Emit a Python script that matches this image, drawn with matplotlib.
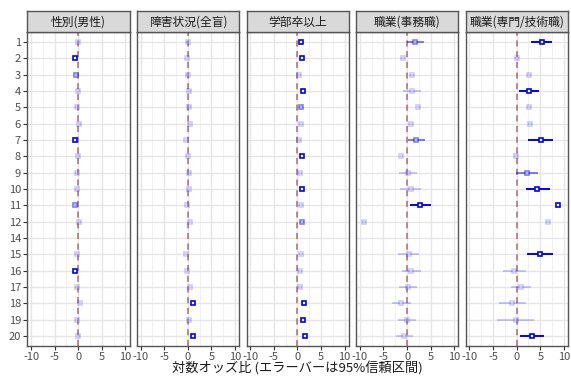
import numpy as np
import matplotlib
matplotlib.use("Agg")
import matplotlib.pyplot as plt

plt.rcParams['font.family'] = ['Noto Sans CJK JP', 'DejaVu Sans']

nan = np.nan

# question numbers (13 is not in the chart, 14 has no estimates)
items = ["1", "2", "3", "4", "5", "6", "7", "8", "9", "10",
         "11", "12", "14", "15", "16", "17", "18", "19", "20"]

panels = ["性別(男性)", "障害状況(全盲)", "学部卒以上", "職業(事務職)", "職業(専門/技術職)"]

# log odds ratio estimates
est_male = [0.0, -0.6, -0.4, 0.0, -0.3, 0.2, -0.8, 0.0, -0.3, -0.3,
            -0.7, 0.2, nan, -0.3, -0.8, -0.3, 0.3, -0.3, 0.0]
est_blind = [0.0, -0.2, 0.0, 0.3, 0.3, 0.4, -0.4, 0.0, 0.3, 0.2,
             -0.1, 0.4, nan, -0.3, -0.2, 0.4, 1.0, 0.3, 1.0]
est_univ = [0.8, 0.9, 0.4, 1.1, 0.7, 0.7, 0.4, 1.0, 0.5, 1.0,
            0.8, 0.9, nan, 0.7, 0.6, 0.6, 1.4, 1.25, 1.5]
est_office = [1.7, -0.8, 1.1, 1.1, 2.4, 0.8, 1.9, -1.2, 0.1, 0.75,
              2.8, -9.2, nan, 0.35, 0.9, 0.3, -1.2, -0.1, -0.6]
est_prof = [5.3, 0.0, 2.6, 2.6, 2.6, 2.8, 5.1, -0.2, 2.1, 4.4,
            8.8, 6.6, nan, 4.9, -0.55, 0.9, -1.0, -0.2, 3.2]

# lower / upper 95% CI
lo_male = [-0.3, -0.9, -0.7, -0.3, -0.6, -0.1, -1.1, -0.3, -0.6, -0.6,
           -1.0, -0.1, nan, -0.6, -1.1, -0.6, 0.0, -0.6, -0.3]
hi_male = [0.3, -0.3, -0.1, 0.3, 0.0, 0.5, -0.5, 0.3, 0.0, 0.0,
           -0.4, 0.5, nan, 0.0, -0.5, 0.0, 0.6, 0.0, 0.3]
lo_blind = [-0.3, -0.5, -0.3, 0.0, 0.0, 0.1, -0.7, -0.3, 0.0, -0.1,
            -0.4, 0.1, nan, -0.6, -0.5, 0.1, 0.7, 0.0, 0.7]
hi_blind = [0.3, 0.1, 0.3, 0.6, 0.6, 0.7, -0.1, 0.3, 0.6, 0.5,
            0.2, 0.7, nan, 0.0, 0.1, 0.7, 1.3, 0.6, 1.3]
lo_univ = [0.4, 0.5, 0.0, 0.7, 0.3, 0.3, 0.0, 0.6, 0.1, 0.6,
           0.4, 0.5, nan, 0.3, 0.2, 0.2, 1.0, 0.85, 1.1]
hi_univ = [1.2, 1.3, 0.8, 1.5, 1.1, 1.1, 0.8, 1.4, 0.9, 1.4,
           1.2, 1.3, nan, 1.1, 1.0, 1.0, 1.8, 1.65, 1.9]
lo_office = [0.0, -1.2, 0.7, -0.8, 2.0, 0.4, 0.1, -1.6, -1.7, -1.5,
             0.6, -9.6, nan, -2.0, -1.1, -1.7, -3.1, -2.0, -2.3]
hi_office = [3.5, -0.4, 1.5, 3.0, 2.8, 1.2, 3.9, -0.8, 2.0, 3.0,
             5.0, -8.8, nan, 2.6, 3.0, 2.2, 0.8, 1.9, 1.3]
lo_prof = [3.0, -0.4, 2.2, 0.5, 2.2, 2.4, 2.5, -0.6, -0.1, 2.0,
           8.4, 6.2, nan, 2.2, -3.0, -1.25, -3.8, -4.2, 0.7]
hi_prof = [7.5, 0.4, 3.0, 4.8, 3.0, 3.2, 7.6, 0.2, 4.6, 7.0,
           9.2, 7.0, nan, 7.6, 2.0, 3.05, 2.0, 3.6, 5.7]

# significance level: 2 = strong, 1 = weak, 0 = not significant
sig_male = [0, 2, 1, 0, 0, 0, 2, 0, 0, 0, 1, 0, 0, 0, 2, 0, 0, 0, 0]
sig_blind = [0, 0, 0, 0, 0, 0, 0, 0, 0, 0, 0, 0, 0, 0, 0, 0, 2, 0, 2]
sig_univ = [2, 2, 0, 2, 1, 0, 0, 2, 0, 2, 0, 1, 0, 0, 0, 0, 2, 2, 2]
sig_office = [1, 0, 0, 0, 0, 0, 1, 0, 0, 0, 2, 0, 0, 0, 0, 0, 0, 0, 0]
sig_prof = [2, 0, 0, 2, 0, 0, 2, 0, 1, 2, 2, 0, 0, 2, 0, 0, 0, 0, 2]

est_all = [est_male, est_blind, est_univ, est_office, est_prof]
lo_all = [lo_male, lo_blind, lo_univ, lo_office, lo_prof]
hi_all = [hi_male, hi_blind, hi_univ, hi_office, hi_prof]
sig_all = [sig_male, sig_blind, sig_univ, sig_office, sig_prof]

alphas = {0: 0.2, 1: 0.5, 2: 1.0}

W, H = 571, 376
fig = plt.figure(figsize=(W / 100, H / 100), dpi=100)

left0, pw, gap = 27.3, 102.2, 7.4
top, strip_bot, bot = 11, 32.3, 345.7
ypos = np.arange(len(items))

for k, name in enumerate(panels):
    x0 = left0 + k * (pw + gap)
    ax = fig.add_axes([x0 / W, 1 - bot / H, pw / W, (bot - strip_bot) / H])
    sax = fig.add_axes([x0 / W, 1 - strip_bot / H, pw / W, (strip_bot - top) / H])

    sax.set_facecolor("#d9d9d9")
    sax.set_xticks([])
    sax.set_yticks([])
    for s in sax.spines.values():
        s.set_color("#555555")
        s.set_linewidth(1.0)
    sax.text(0.5, 0.47, name, ha="center", va="center", fontsize=8.5,
             color="#1a1a1a", transform=sax.transAxes)

    ax.set_xlim(-10.8, 10.85)
    ax.set_ylim(len(items) - 1 + 0.6, -0.6)
    ax.set_xticks([-10, -5, 0, 5, 10])
    ax.set_xticks([-7.5, -2.5, 2.5, 7.5], minor=True)
    ax.set_yticks(ypos)
    ax.grid(True, which="major", color="#e6e6e6", linewidth=1.0)
    ax.grid(True, which="minor", axis="x", color="#efefef", linewidth=0.6)
    ax.set_axisbelow(True)
    ax.tick_params(which="minor", length=0)
    ax.tick_params(which="major", length=3, color="#333333", labelsize=8,
                   labelcolor="#4d4d4d", pad=1.5)
    ax.set_xticklabels(["-10", "-5", "0", "5", "10"])
    if k == 0:
        ax.set_yticklabels(items)
    else:
        ax.tick_params(axis="y", length=0, labelleft=False)
    for s in ax.spines.values():
        s.set_color("#555555")
        s.set_linewidth(1.0)

    ax.axvline(0, color="#9c4a4a", alpha=0.8, linewidth=1.1,
               linestyle=(0, (4, 3)), zorder=1)

    for i in range(len(items)):
        e = est_all[k][i]
        if np.isnan(e):
            continue
        a = alphas[sig_all[k][i]]
        ax.plot([lo_all[k][i], hi_all[k][i]], [i, i], color="blue",
                alpha=a, linewidth=1.4, solid_capstyle="butt", zorder=2)
        ax.plot(e, i, marker="s", markersize=3.0, mfc="white", mec="blue",
                mew=1.2, alpha=a, zorder=3)

fig.text(297.6 / W, 1 - 369 / H, "対数オッズ比 (エラーバーは95%信頼区間)",
         ha="center", va="center", fontsize=9.5, color="#1a1a1a")

fig.savefig("out.png", dpi=100)
